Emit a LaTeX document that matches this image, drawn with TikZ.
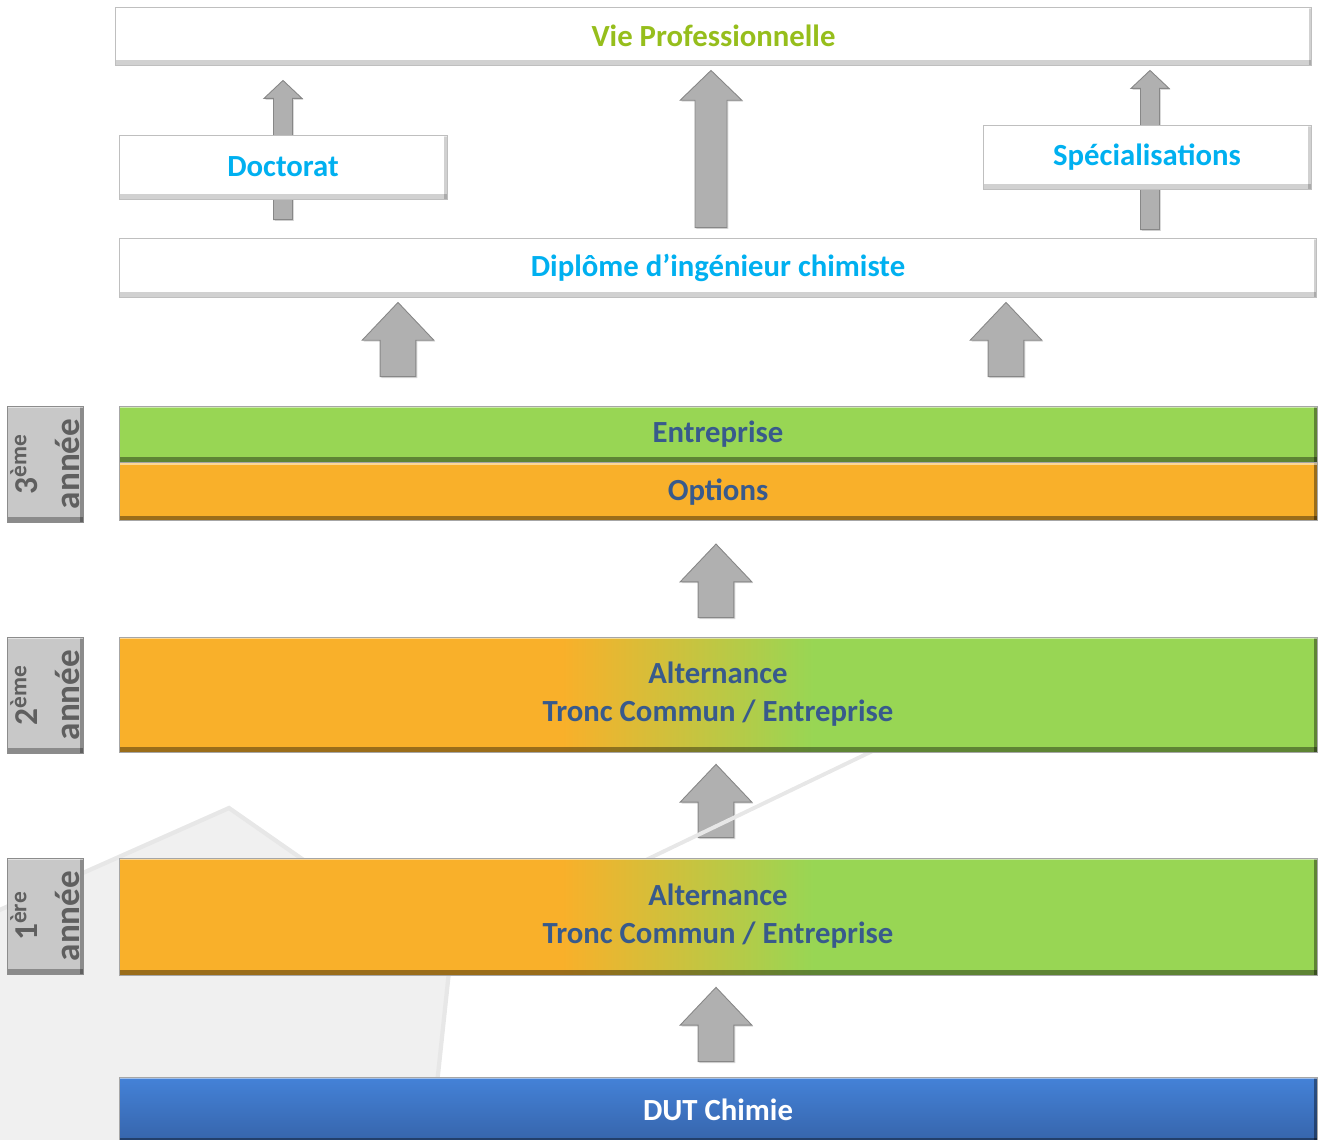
\documentclass[tikz,border=0pt]{standalone}
\usepackage{fontspec}
\setmainfont{Carlito}[Numbers=Lining]
\usepackage{graphicx}
\usetikzlibrary{positioning, calc, backgrounds, shadows}

\definecolor{barGreen}{RGB}{152,214,84}
\definecolor{barOrange}{RGB}{249,176,42}
\definecolor{barText}{RGB}{56,90,140}
\definecolor{cyanText}{RGB}{0,176,240}
\definecolor{vieText}{RGB}{150,190,28}
\definecolor{dutTop}{RGB}{68,130,216}
\definecolor{dutBottom}{RGB}{54,100,170}
\definecolor{yearFill}{RGB}{200,200,200}
\definecolor{yearText}{RGB}{95,95,95}
\definecolor{arrowFill}{RGB}{176,176,176}
\definecolor{arrowEdge}{RGB}{135,135,135}
\definecolor{bgShape}{RGB}{240,240,240}
\definecolor{bgEdge}{RGB}{231,231,231}

\pgfdeclarehorizontalshading{alternance}{100bp}{%
  color(0bp)=(barOrange); color(43.5bp)=(barOrange);
  color(54bp)=(barGreen); color(100bp)=(barGreen)}

% block arrow: from, to, half shaft, half head, head length
\newcommand{\blockarrow}[5]{%
  \path[blockfill] let \p1=(#1), \p2=(#2) in
    (\x1-#3,\y1) -- (\x1-#3,\y2-#5) -- (\x1-#4,\y2-#5) -- (\x1,\y2)
    -- (\x1+#4,\y2-#5) -- (\x1+#3,\y2-#5) -- (\x1+#3,\y1) -- cycle;}

\begin{document}
\begin{tikzpicture}[
    x=0.02cm, y=-0.02cm,
    font=\bfseries\fontsize{17.5}{21.5}\selectfont,
    bevel/.style={path picture={
        \fill[black, opacity=#1] (path picture bounding box.south west)
            rectangle ([yshift=2.6pt]path picture bounding box.south east);
        \fill[black, opacity=#1] ([xshift=-1.6pt]path picture bounding box.south east)
            rectangle (path picture bounding box.north east);
        \fill[white, opacity=0.5] (path picture bounding box.north west)
            rectangle ([yshift=-1.4pt]path picture bounding box.north east);
    }},
    whitebox/.style={
        draw=black!25, line width=0.5pt, fill=white, inner sep=0pt,
        text=cyanText, bevel=0.18
    },
    barbox/.style={
        draw=black!35, line width=0.4pt, inner sep=0pt,
        minimum width=23.96cm, text=barText, align=center, bevel=0.38
    },
    yearbox/.style={
        draw=black!45, line width=0.4pt, fill=yearFill,
        minimum width=1.52cm, minimum height=2.32cm, bevel=0.3
    },
    yearlabel/.style={
        rotate=90, align=center, text=yearText,
        font=\bfseries\fontsize{20}{24}\selectfont
    },
    blockfill/.style={
        fill=arrowFill, draw=arrowEdge, line width=0.5pt,
        drop shadow={opacity=0.3, shadow xshift=0.8pt, shadow yshift=-0.8pt}
    }
]
\useasboundingbox (0,0) rectangle (1318,1139);

% --- Background shapes ---
\fill[bgShape, draw=bgEdge, line width=2.4pt]
    (-5,912) -- (229,808) -- (450,962) -- (430,1150) -- (-5,1150) -- cycle;
\draw[bgEdge, line width=2.2pt] (600,882) -- (960,709);

% --- Outcomes ---
\node[whitebox, text=vieText, minimum width=23.94cm, minimum height=1.16cm]
    (vie) at (713.5,36) {Vie Professionnelle};
\node[whitebox, minimum width=6.56cm, minimum height=1.28cm]
    (doct) at (283,167) {Doctorat};
\node[whitebox, minimum width=6.56cm, minimum height=1.28cm]
    (spec) at (1147,157) {Spécialisations};
\node[whitebox, minimum width=23.96cm, minimum height=1.18cm]
    (dipl) at (718,267.5) {Diplôme d’ingénieur chimiste};

% --- Years ---
\node[barbox, fill=barGreen, minimum height=1.12cm] (entr) at (718,434) {Entreprise};
\node[barbox, fill=barOrange, minimum height=1.16cm, below=0pt of entr] (opt) {Options};
\node[barbox, shading=alternance, minimum height=2.3cm]
    (alt2) at (718,694.5) {Alternance\\Tronc Commun / Entreprise};
\node[barbox, shading=alternance, minimum height=2.34cm]
    (alt1) at (718,916.5) {Alternance\\Tronc Commun / Entreprise};
\node[barbox, top color=dutTop, bottom color=dutBottom, text=white, minimum height=1.32cm]
    (dut) at (718,1110) {DUT Chimie};

\node[yearbox] (y3) at (45,464) {};
\node[yearlabel] (y3t) at (y3) {{\fontsize{19}{19}\selectfont 3\textsuperscript{ème}}\\année};
\node[yearbox] (y2) at (45,695) {};
\node[yearlabel] (y2t) at (y2) {{\fontsize{19}{19}\selectfont 2\textsuperscript{ème}}\\année};
\node[yearbox] (y1) at (45,916) {};
\node[yearlabel] (y1t) at (y1) {{\fontsize{19}{19}\selectfont 1\textsuperscript{ère}}\\année};

% --- Arrows ---
\begin{scope}[on background layer]
\blockarrow{$(dipl.north -| doct.center)+(0,-18)$}{$(vie.south -| doct.center)+(0,15)$}{5.4pt}{10.8pt}{10.2pt}
\blockarrow{$(dipl.north)+(-7,-10)$}{$(vie.south)+(0,5)$}{9.1pt}{17.6pt}{17pt}
\blockarrow{$(dipl.north -| spec.center)+(3,-8)$}{$(vie.south -| spec.center)+(0,5)$}{5.4pt}{10.8pt}{10.2pt}
\blockarrow{$(entr.north)+(-320,-29)$}{$(dipl.south)+(0,5)$}{10.2pt}{20.4pt}{21.5pt}
\blockarrow{$(entr.north)+(288,-29)$}{$(dipl.south)+(0,5)$}{10.2pt}{20.4pt}{21.5pt}
\blockarrow{$(alt2.north)+(-2,-19)$}{$(opt.south)+(0,23)$}{10.2pt}{20.4pt}{21.5pt}
\blockarrow{$(alt1.north)+(-2,-20)$}{$(alt2.south)+(0,12)$}{10.2pt}{20.4pt}{21.5pt}
\blockarrow{$(dut.north)+(-2,-15)$}{$(alt1.south)+(0,12)$}{10.2pt}{20.4pt}{21.5pt}
\end{scope}

\end{tikzpicture}
\end{document}
